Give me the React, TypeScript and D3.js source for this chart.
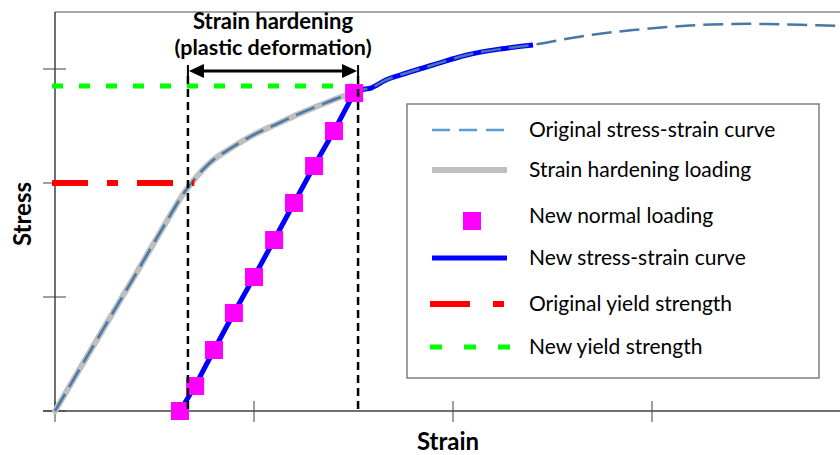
import React from 'react';
import * as d3 from 'd3';

// stress / strain values (arbitrary units)
const xTicks = [0, 1, 2, 3, 4];
const yTicks = [0, 1, 2, 3];

const originalCurve: [number, number][] = [
  [0, 0], [0.226, 0.67], [0.392, 1.16], [0.563, 1.67], [0.643, 1.9],
  [0.678, 1.982], [0.729, 2.09], [0.794, 2.2], [0.879, 2.3], [0.995, 2.42],
  [1.106, 2.51], [1.231, 2.61], [1.397, 2.728], [1.508, 2.798], [1.553, 2.822],
  [1.588, 2.833], [1.618, 2.86], [1.658, 2.9], [1.734, 2.947], [1.899, 3.035],
  [2.07, 3.123], [2.236, 3.175], [2.402, 3.211], [2.573, 3.265], [2.739, 3.31],
  [2.905, 3.342], [3.075, 3.368], [3.241, 3.386], [3.407, 3.395], [3.578, 3.395],
  [3.744, 3.388], [3.945, 3.377],
];

const newLoading: [number, number][] = [
  [0.628, 0], [0.704, 0.219], [0.799, 0.535], [0.899, 0.86], [1.0, 1.175],
  [1.101, 1.5], [1.201, 1.825], [1.302, 2.149], [1.402, 2.456], [1.503, 2.789],
];

const reloadStrain = 1.508; // where unloading happened
const newCurveEnd = 2.402;
const originalYield = 2.0;
const originalYieldEnd = 0.7;
const newYield = 2.85;
const newYieldEnd = 1.5;
const hardeningRange = [0.668, 1.523];

const legendItems = [
  'Original stress-strain curve',
  'Strain hardening loading',
  'New normal loading',
  'New stress-strain curve',
  'Original yield strength',
  'New yield strength',
];

const W = 840;
const H = 455;

export default function App() {
  const x = d3.scaleLinear().domain([0, 4]).range([55, 851]);
  const y = d3.scaleLinear().domain([0, 3.5]).range([411, 12]);
  const line = d3.line<[number, number]>().x(d => x(d[0])).y(d => y(d[1])).curve(d3.curveCatmullRom.alpha(0.5));
  const straight = d3.line<[number, number]>().x(d => x(d[0])).y(d => y(d[1]));

  const hardeningPart = originalCurve.filter(d => d[0] <= reloadStrain);
  const newTail = originalCurve.filter(d => d[0] >= reloadStrain && d[0] <= newCurveEnd);

  const font = 'Lato, "Open Sans", sans-serif';
  const axisColor = '#404040';
  const arrowY = 71;
  const ax0 = x(hardeningRange[0]);
  const ax1 = x(hardeningRange[1]);

  const legendRows = [130, 170, 221, 258, 304, 347];

  return (
    <svg width={W} height={H} style={{ position: 'absolute', left: 0, top: 0, background: '#fff' }}>
      {/* frame + axes */}
      <line x1={x(0)} x2={W} y1={y(3.5)} y2={y(3.5)} stroke="#a6a6a6" strokeWidth={2} />
      <line x1={x(0)} x2={x(0)} y1={y(3.5)} y2={y(0)} stroke={axisColor} strokeWidth={1.5} />
      <line x1={x(0) - 12} x2={W} y1={y(0)} y2={y(0)} stroke={axisColor} strokeWidth={1.5} />
      {yTicks.map(t => (
        <line key={'y' + t} x1={x(0) - 12} x2={x(0) + 11} y1={y(t)} y2={y(t)} stroke={axisColor} strokeWidth={1} />
      ))}
      {xTicks.map(t => (
        <line key={'x' + t} x1={x(t)} x2={x(t)} y1={y(0) - 10} y2={y(0) + 11} stroke={axisColor} strokeWidth={1} />
      ))}

      {/* curves */}
      <path d={line(hardeningPart) || ''} fill="none" stroke="#bfbfbf" strokeWidth={6} strokeLinecap="round" />
      <path d={straight(newLoading) || ''} fill="none" stroke="#0000ff" strokeWidth={5} />
      <path d={line(newTail) || ''} fill="none" stroke="#0000ff" strokeWidth={5} />
      <path d={line(originalCurve) || ''} fill="none" stroke="#4878a8" strokeWidth={2.5} strokeDasharray="20,8" />

      {/* yield strengths */}
      <line x1={x(0) - 3} x2={x(originalYieldEnd)} y1={y(originalYield)} y2={y(originalYield)}
        stroke="#ff0000" strokeWidth={6} strokeDasharray="36,19,11,19" />
      <line x1={x(0) - 3} x2={x(newYieldEnd)} y1={y(newYield)} y2={y(newYield)}
        stroke="#00ff00" strokeWidth={5} strokeDasharray="11,16" />

      {newLoading.map((d, i) => (
        <rect key={i} x={x(d[0]) - 9} y={y(d[1]) - 9} width={18} height={18} fill="#ff00ff" />
      ))}

      {/* strain hardening range */}
      {hardeningRange.map((v, i) => (
        <g key={i}>
          <line x1={x(v)} x2={x(v)} y1={arrowY + 5} y2={y(0) - 2} stroke="#000" strokeWidth={2.5} strokeDasharray="8,5" />
          <line x1={x(v)} x2={x(v)} y1={arrowY - 6} y2={arrowY + 6} stroke="#000" strokeWidth={2} />
        </g>
      ))}
      <line x1={ax0 + 10} x2={ax1 - 10} y1={arrowY} y2={arrowY} stroke="#000" strokeWidth={3} />
      <path d={`M${ax0 + 1},${arrowY} L${ax0 + 16},${arrowY - 7} L${ax0 + 16},${arrowY + 7} Z`} fill="#000" />
      <path d={`M${ax1 - 1},${arrowY} L${ax1 - 16},${arrowY - 7} L${ax1 - 16},${arrowY + 7} Z`} fill="#000" />

      <text x={(ax0 + ax1) / 2} y={29} textAnchor="middle" fontFamily={font} fontWeight="bold" fontSize={22}>
        Strain hardening
      </text>
      <text x={(ax0 + ax1) / 2} y={55} textAnchor="middle" fontFamily={font} fontWeight="bold" fontSize={21.5}>
        (plastic deformation)
      </text>

      {/* axis titles */}
      <text x={448} y={450} textAnchor="middle" fontFamily={font} fontWeight="bold" fontSize={24}>Strain</text>
      <text transform="translate(31,214) rotate(-90)" textAnchor="middle" fontFamily={font} fontWeight="bold" fontSize={24}>Stress</text>

      {/* legend */}
      <rect x={407} y={104} width={412} height={274} fill="#fff" stroke="#7f7f7f" strokeWidth={1.5} />
      <line x1={432} x2={507} y1={legendRows[0]} y2={legendRows[0]} stroke="#5b9bd5" strokeWidth={2.5} strokeDasharray="18,9" />
      <line x1={432} x2={507} y1={legendRows[1]} y2={legendRows[1]} stroke="#bfbfbf" strokeWidth={6} />
      <rect x={463} y={legendRows[2] - 9} width={18} height={18} fill="#ff00ff" />
      <line x1={432} x2={507} y1={legendRows[3]} y2={legendRows[3]} stroke="#0000ff" strokeWidth={5} />
      <line x1={430} x2={504} y1={legendRows[4]} y2={legendRows[4]} stroke="#ff0000" strokeWidth={6} strokeDasharray="40,23,11,30" />
      <line x1={430} x2={510} y1={legendRows[5]} y2={legendRows[5]} stroke="#00ff00" strokeWidth={5} strokeDasharray="12,22" />
      {legendItems.map((t, i) => (
        <text key={t} x={529} y={legendRows[i] - (i === 2 ? 7 : 2)} dominantBaseline="central"
          fontFamily={font} fontSize={21} fill="#000">
          {t}
        </text>
      ))}
    </svg>
  );
}
